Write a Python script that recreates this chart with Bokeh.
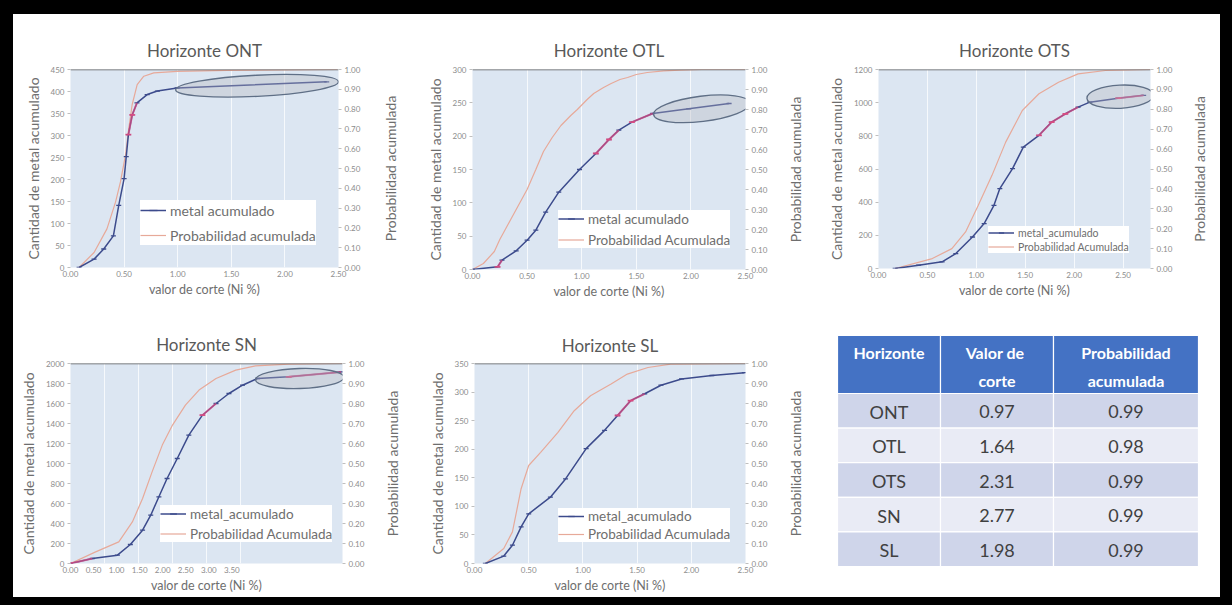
import math
from bokeh.plotting import figure
from bokeh.models import (Range1d, LinearAxis, FixedTicker, NumeralTickFormatter, Span,
                          Legend, LegendItem, Grid, Title)
from bokeh.layouts import row, column
from bokeh.embed import file_html
from bokeh.resources import INLINE
from bokeh.core.properties import value

# ---------------- data ----------------
x_ticks_std = [0.0, 0.5, 1.0, 1.5, 2.0, 2.5]
x_ticks_sn = [0.0, 0.5, 1.0, 1.5, 2.0, 2.5, 3.0, 3.5]
prob_ticks = [0.0, 0.1, 0.2, 0.3, 0.4, 0.5, 0.6, 0.7, 0.8, 0.9, 1.0]

ont_left_ticks = [0, 50, 100, 150, 200, 250, 300, 350, 400, 450]
ont_metal_x = [0.08, 0.22, 0.31, 0.40, 0.45, 0.50, 0.52, 0.54, 0.576, 0.62, 0.715, 0.81, 0.995, 2.39]
ont_metal_y = [0, 19, 42, 72, 141, 202, 252, 302, 347, 374, 393, 401, 408, 422]
ont_prob_x = [0.08, 0.22, 0.34, 0.42, 0.466, 0.513, 0.544, 0.575, 0.622, 0.684, 0.777, 0.995, 1.46, 2.49]
ont_prob_y = [0, 0.076, 0.195, 0.33, 0.432, 0.568, 0.703, 0.822, 0.924, 0.966, 0.983, 0.991, 0.996, 1.0]
ont_red = [7, 8]

otl_left_ticks = [0, 50, 100, 150, 200, 250, 300]
otl_metal_x = [0.0, 0.23, 0.27, 0.40, 0.50, 0.58, 0.67, 0.79, 0.98, 1.13, 1.25, 1.34, 1.46, 1.65, 1.98, 2.35]
otl_metal_y = [0, 4, 14, 28, 44, 59, 86, 116, 150, 174, 195, 209, 221, 234, 241, 249]
otl_prob_x = [0.0, 0.1, 0.2, 0.25, 0.3, 0.35, 0.42, 0.5, 0.58, 0.65, 0.73, 0.81, 0.9, 0.96,
              1.05, 1.11, 1.2, 1.27, 1.35, 1.42, 1.5, 1.6, 1.75, 1.9, 2.1, 2.5]
otl_prob_y = [0, 0.03, 0.09, 0.15, 0.2, 0.25, 0.32, 0.4, 0.5, 0.59, 0.66, 0.72, 0.77, 0.8,
              0.85, 0.88, 0.91, 0.93, 0.95, 0.96, 0.975, 0.985, 0.993, 0.997, 1.0, 1.0]
otl_red = [1, 9, 10, 12]

ots_left_ticks = [0, 200, 400, 600, 800, 1000, 1200]
ots_metal_x = [0.17, 0.41, 0.65, 0.79, 0.96, 1.08, 1.18, 1.24, 1.37, 1.48, 1.64, 1.77, 1.91, 2.04, 2.16, 2.45, 2.71]
ots_metal_y = [0, 20, 40, 90, 190, 271, 381, 482, 602, 732, 803, 883, 933, 973, 1003, 1027, 1044]
ots_prob_x = [0.17, 0.55, 0.75, 0.89, 1.02, 1.16, 1.30, 1.47, 1.64, 1.84, 2.04, 2.32, 2.78]
ots_prob_y = [0, 0.05, 0.10, 0.184, 0.318, 0.468, 0.635, 0.794, 0.878, 0.936, 0.978, 0.995, 1.0]
ots_red = [10, 11, 12, 15]

sn_left_ticks = [0, 200, 400, 600, 800, 1000, 1200, 1400, 1600, 1800, 2000]
sn_metal_x = [0.0, 0.32, 0.69, 0.88, 1.06, 1.18, 1.30, 1.42, 1.57, 1.74, 1.94, 2.14, 2.33, 2.53, 2.75, 3.21, 3.98]
sn_metal_y = [0, 50, 83, 190, 333, 483, 667, 850, 1050, 1283, 1483, 1600, 1700, 1783, 1850, 1867, 1916]
sn_prob_x = [0.0, 0.37, 0.71, 0.91, 1.06, 1.20, 1.35, 1.50, 1.69, 1.89, 2.14, 2.43, 2.72, 3.21, 4.0]
sn_prob_y = [0, 0.058, 0.108, 0.208, 0.325, 0.458, 0.592, 0.692, 0.792, 0.867, 0.925, 0.967, 0.988, 0.997, 1.0]
sn_red = [0, 10, 15]

sl_left_ticks = [0, 50, 100, 150, 200, 250, 300, 350]
sl_metal_x = [0.10, 0.27, 0.35, 0.43, 0.50, 0.70, 0.84, 1.03, 1.20, 1.32, 1.44, 1.57, 1.72, 1.91, 2.19, 2.49]
sl_metal_y = [0, 13, 32, 64, 87, 116, 148, 201, 233, 259, 285, 297, 312, 323, 329, 334]
sl_prob_x = [0.10, 0.27, 0.35, 0.43, 0.50, 0.61, 0.77, 0.92, 1.07, 1.26, 1.41, 1.60, 1.81, 2.5]
sl_prob_y = [0, 0.075, 0.158, 0.374, 0.49, 0.556, 0.656, 0.764, 0.839, 0.897, 0.947, 0.98, 0.997, 1.0]
sl_red = [9, 10]

# ellipses marking the plateau: (x, y, width, height, angle)
ont_ellipse = (1.74, 413, 1.52, 48, 0.05)
otl_ellipse = (2.10, 241, 0.89, 38, 0.12)
ots_ellipse = (2.47, 1036, 0.68, 140, 0.05)
sn_ellipse = (3.37, 1850, 1.30, 200, 0.03)

tab_header_1 = ["Horizonte", "Valor  de", "Probabilidad"]
tab_header_2 = ["", "corte", "acumulada"]
tab_horizonte = ["ONT", "OTL", "OTS", "SN", "SL"]
tab_valor = [0.97, 1.64, 2.31, 2.77, 1.98]
tab_prob = [0.99, 0.98, 0.99, 0.99, 0.99]

# ---------------- style ----------------
FONT = "Lato"
FRAME_BG = "#dce6f2"
METAL_C = "#3c4b8c"
PROB_C = "#e7a999"
RED_C = "#e84a7f"
TITLE_C = "#595959"
LAB_C = "#6e6e6e"
TICK_C = "#8c8c8c"


def style_axis(ax, ticks_out=3):
    ax.axis_line_color = None
    ax.major_tick_line_color = "#bfbfbf"
    ax.major_tick_out = ticks_out
    ax.major_tick_in = 0
    ax.minor_tick_line_color = None
    ax.major_label_text_font = FONT
    ax.major_label_text_font_size = "8px"
    ax.major_label_text_color = TICK_C
    ax.major_label_standoff = 3
    ax.axis_label_text_font = FONT
    ax.axis_label_text_font_size = "14px"
    ax.axis_label_text_font_style = "normal"
    ax.axis_label_text_color = LAB_C


def side_title(w, h, t, b, text):
    """Narrow strip holding the secondary-axis title (reads bottom-to-top)."""
    q = figure(width=w, height=h, x_range=Range1d(0, 1), y_range=Range1d(0, 1),
               toolbar_location=None, output_backend="svg",
               x_axis_location=None, y_axis_location=None,
               min_border_left=21, min_border_right=0, min_border_top=t, min_border_bottom=b,
               background_fill_color="white", border_fill_color="white",
               outline_line_color=None)
    q.grid.visible = False
    ax = LinearAxis(ticker=FixedTicker(ticks=[]), axis_label=text)
    style_axis(ax, 0)
    ax.major_tick_line_color = None
    ax.major_label_text_font_size = "0px"
    ax.axis_label_standoff = 3
    q.add_layout(ax, "left")
    return q


def panel(title, w, h, borders, x_end, y_end, y_ticks, x_ticks, mx, my, px, pp, red, ell,
          lab_metal, lab_prob, leg_loc, leg_font, leg_lh, leg_pad, leg_sp, title_off,
          title_standoff, x_lab_end=None):
    l, r, t, b = borders
    p = figure(width=w, height=h, x_range=Range1d(0, x_end), y_range=Range1d(0, y_end),
               toolbar_location=None, output_backend="svg",
               x_axis_location=None, y_axis_location=None,
               min_border_left=l, min_border_right=r, min_border_top=t, min_border_bottom=b,
               background_fill_color=FRAME_BG, border_fill_color="white",
               outline_line_color=None)
    p.grid.visible = False
    p.title = Title(text=title, align="center", offset=title_off, text_font=FONT,
                    text_font_size="17px", text_font_style="normal", text_color=TITLE_C,
                    standoff=title_standoff)
    p.extra_y_ranges = {"prob": Range1d(0, 1)}

    if x_lab_end is not None:
        p.extra_x_ranges = {"lab": Range1d(0, x_lab_end)}
        xa = LinearAxis(x_range_name="lab", ticker=FixedTicker(ticks=x_ticks))
    else:
        xa = LinearAxis(ticker=FixedTicker(ticks=x_ticks))
    xa.formatter = NumeralTickFormatter(format="0.00")
    xa.axis_label = "valor de corte (Ni %)"
    style_axis(xa, 0)
    xa.axis_label_text_font_size = "12.5px"
    xa.axis_label_standoff = 2
    p.add_layout(xa, "below")

    ya = LinearAxis(ticker=FixedTicker(ticks=y_ticks), formatter=NumeralTickFormatter(format="0"),
                    axis_label="Cantidad de metal acumulado")
    style_axis(ya)
    ya.axis_label_standoff = 6
    p.add_layout(ya, "left")

    yr = LinearAxis(y_range_name="prob", ticker=FixedTicker(ticks=prob_ticks),
                    formatter=NumeralTickFormatter(format="0.00"))
    style_axis(yr)
    p.add_layout(yr, "right")

    grid_ticks = [v for v in x_ticks_std if v <= x_end]
    p.add_layout(Grid(dimension=0, ticker=FixedTicker(ticks=grid_ticks),
                      grid_line_color="white", grid_line_alpha=0.75))

    p.add_layout(Span(location=y_end, dimension="width", line_color="#5a5a5a", line_width=1.6))

    prob_r = p.line(px, pp, y_range_name="prob", line_color=PROB_C, line_width=1.2)
    ml = p.line(mx, my, line_color=METAL_C, line_width=1.5)
    ms = p.scatter(mx, my, marker="dash", size=5, line_color=METAL_C, line_width=1.3)
    rx0 = [mx[i] for i in red]
    ry0 = [my[i] for i in red]
    rx1 = [mx[min(i + 1, len(mx) - 1)] for i in red]
    ry1 = [my[min(i + 1, len(my) - 1)] for i in red]
    p.segment(rx0, ry0, rx1, ry1, line_color=RED_C, line_width=2.0, line_alpha=0.65)
    p.scatter(rx0, ry0, marker="dash", size=6, line_color=RED_C, line_width=1.8, line_alpha=0.8)

    if ell is not None:
        ex, ey, ew, eh, ea = ell
        p.ellipse(x=[ex], y=[ey], width=[ew], height=[eh], angle=ea,
                  fill_color="#b4b4bc", fill_alpha=0.35, line_color="#5f6f86", line_width=1.3)

    leg = Legend(items=[LegendItem(label=lab_metal, renderers=[ml, ms]),
                        LegendItem(label=lab_prob, renderers=[prob_r])],
                 location=leg_loc, margin=0, padding=leg_pad, spacing=leg_sp,
                 background_fill_color="white", background_fill_alpha=1.0,
                 border_line_color=None, label_text_font=FONT, label_text_font_size=leg_font,
                 label_text_color=LAB_C, glyph_width=26, glyph_height=leg_lh,
                 label_height=leg_lh, label_standoff=4)
    p.add_layout(leg)
    return p


p_ont = panel("Horizonte ONT", 365, 296, (57, 40, 55, 43), 2.5, 450, ont_left_ticks, x_ticks_std,
              ont_metal_x, ont_metal_y, ont_prob_x, ont_prob_y, ont_red, ont_ellipse,
              "metal acumulado", "Probabilidad acumulada", (70, 22), "14px", 20, 6, 5, 13, 17)
s_ont = side_title(32, 296, 55, 43, "Probabilidad acumulada")
p_otl = panel("Horizonte OTL", 373, 296, (62, 38, 55, 41), 2.5, 300, otl_left_ticks, x_ticks_std,
              otl_metal_x, otl_metal_y, otl_prob_x, otl_prob_y, otl_red, otl_ellipse,
              "metal acumulado", "Probabilidad Acumulada", (86, 21), "13.5px", 17, 5, 4, 6, 17)
s_otl = side_title(29, 296, 55, 41, "Probabilidad acumulada")
p_ots = panel("Horizonte OTS", 375, 296, (66, 37, 55, 42), 2.78, 1200, ots_left_ticks, x_ticks_std,
              ots_metal_x, ots_metal_y, ots_prob_x, ots_prob_y, ots_red, ots_ellipse,
              "metal_acumulado", "Probabilidad Acumulada", (110, 15), "10.5px", 13, 2, 1, 13, 17)
s_ots = side_title(33, 296, 55, 42, "Probabilidad acumulada")
p_sn = panel("Horizonte SN", 367, 287, (57, 38, 53, 34), 4.0, 2000, sn_left_ticks, x_ticks_sn,
             sn_metal_x, sn_metal_y, sn_prob_x, sn_prob_y, sn_red, sn_ellipse,
             "metal_acumulado", "Probabilidad Acumulada", (90, 21), "13.5px", 17, 5, 3, 7, 18,
             x_lab_end=5.9)
s_sn = side_title(30, 287, 53, 34, "Probabilidad acumulada")
p_sl = panel("Horizonte SL", 373, 287, (64, 38, 53, 34), 2.5, 350, sl_left_ticks, x_ticks_std,
             sl_metal_x, sl_metal_y, sl_prob_x, sl_prob_y, sl_red, None,
             "metal_acumulado", "Probabilidad Acumulada", (84, 21), "13.5px", 16, 3, 2, 9, 15)
s_sl = side_title(29, 287, 53, 34, "Probabilidad acumulada")

# ---------------- table ----------------
TW, TH = 408, 287
TAB_LEFT, TAB_TOP = 25, 25
COL_W = [103, 113, 145]
HEAD_H = 58
ROW_H = 34.6
HEAD_C = "#4472c4"
ROW_DARK = "#cfd5ea"
ROW_LIGHT = "#e9ebf5"

pt = figure(width=TW, height=TH, x_range=Range1d(0, TW), y_range=Range1d(TH, 0),
            toolbar_location=None, output_backend="svg", x_axis_location=None,
            y_axis_location=None, min_border=0, outline_line_color=None,
            background_fill_color="white", border_fill_color="white")
pt.grid.visible = False

col_left = [TAB_LEFT + sum(COL_W[:j]) for j in range(3)]
col_cx = [col_left[j] + COL_W[j] / 2 for j in range(3)]

pt.rect(x=col_cx, y=[TAB_TOP + HEAD_H / 2] * 3, width=COL_W, height=[HEAD_H] * 3,
        fill_color=HEAD_C, line_color="white", line_width=1.2)
pt.text(x=col_cx, y=[TAB_TOP + 17] * 3, text=tab_header_1, text_align="center",
        text_baseline="middle", text_font=value(FONT), text_font_size="16px",
        text_font_style="bold", text_color="white")
pt.text(x=col_cx, y=[TAB_TOP + 45] * 3, text=tab_header_2, text_align="center",
        text_baseline="middle", text_font=value(FONT), text_font_size="16px",
        text_font_style="bold", text_color="white")

for i, name in enumerate(tab_horizonte):
    yc = TAB_TOP + HEAD_H + ROW_H * i + ROW_H / 2
    fill = ROW_DARK if i % 2 == 0 else ROW_LIGHT
    pt.rect(x=col_cx, y=[yc] * 3, width=COL_W, height=[ROW_H] * 3,
            fill_color=fill, line_color="white", line_width=1.2)
    cells = [name, f"{tab_valor[i]:.2f}", f"{tab_prob[i]:.2f}"]
    pt.text(x=col_cx, y=[yc + 1] * 3, text=cells, text_align="center", text_baseline="middle",
            text_font=value(FONT), text_font_size="18px", text_color="#404040")

# ---------------- layout ----------------
r1 = row(row(p_ont, s_ont), row(p_otl, s_otl), row(p_ots, s_ots))
r2 = row(row(p_sn, s_sn), row(p_sl, s_sl), column(pt))
inner = column(r1, r2, styles={"background-color": "white"})
layout = column(inner, styles={"background-color": "black",
                               "padding": "14px 12px 8px 13px"})

open("out.html", "w").write(file_html(layout, INLINE))
